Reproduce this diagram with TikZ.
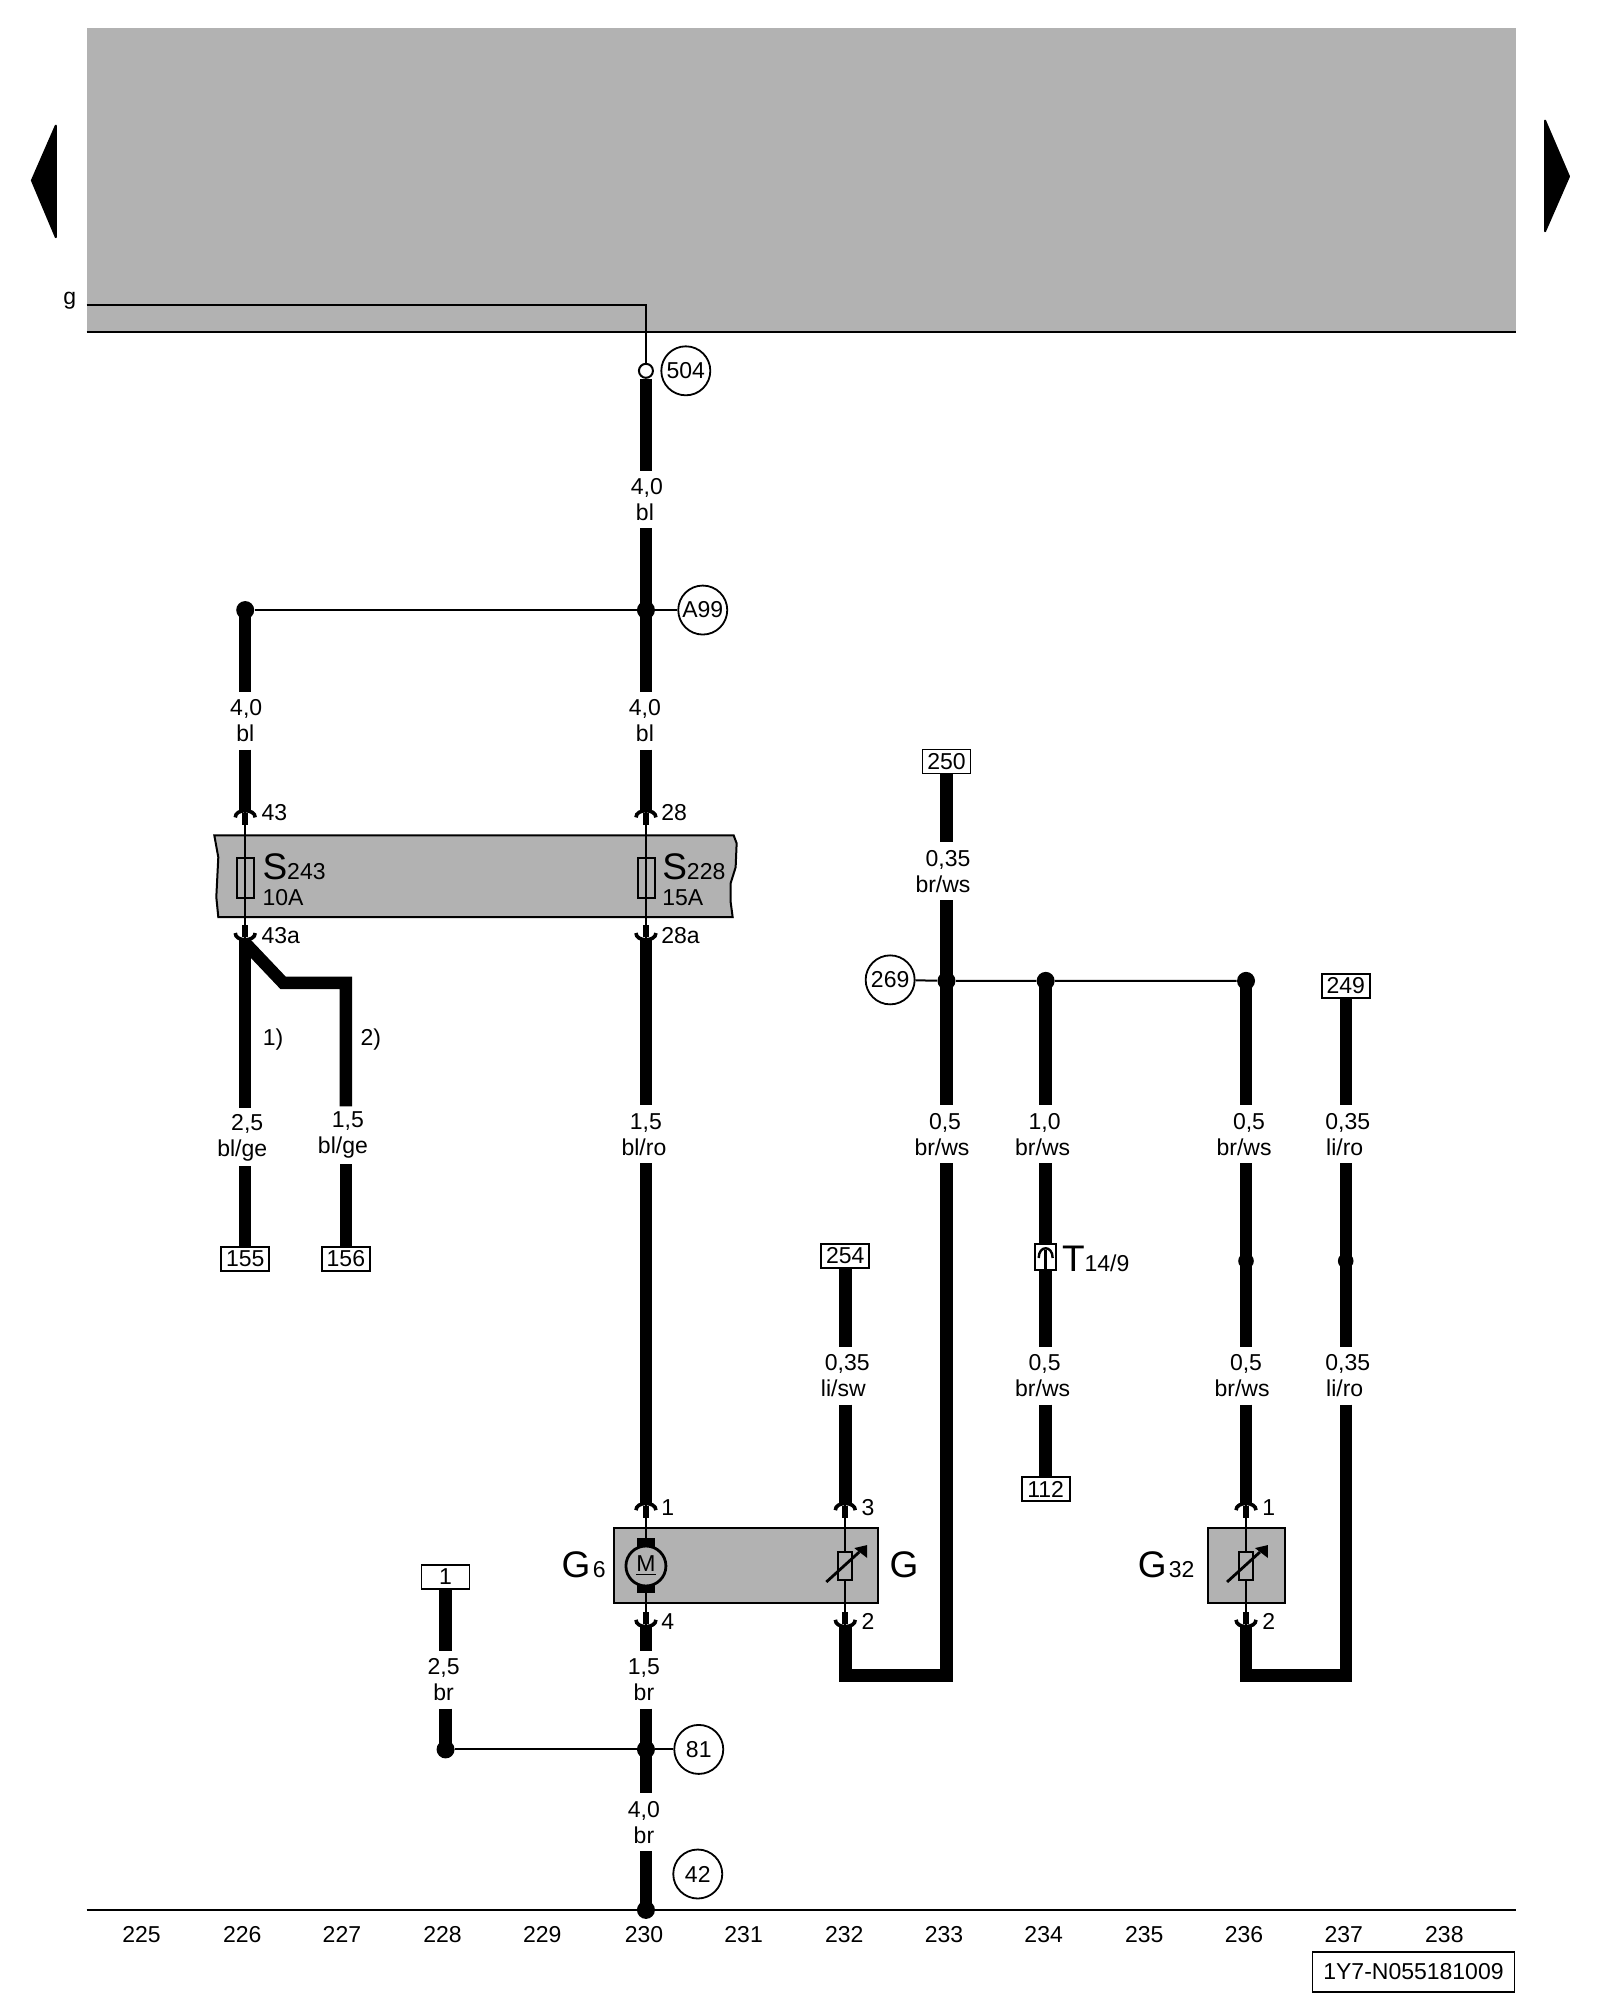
\documentclass[tikz,border=0pt]{standalone}
\usepackage{fontspec}
\setmainfont{Liberation Sans}
\newcommand{\bigf}{\fontsize{18.5}{20}\selectfont}
\newcommand{\sh}[1]{\hspace*{#1pt}}
\tikzset{
  wire/.style={line width=6.2pt,line cap=butt,line join=miter},
  thinw/.style={line width=1pt},
  grayf/.style={fill=gb,draw=black,line width=1pt},
  lab/.style={font=\fontsize{11.5}{13}\selectfont,align=center,inner sep=0pt,minimum height=28.5pt},
  txt/.style={font=\fontsize{11.5}{13}\selectfont,inner sep=0pt},
  big/.style={inner sep=0pt,font=\bigf,anchor=base west},
  term/.style={draw,fill=white,line width=0.9pt,minimum width=24pt,minimum height=12pt,inner sep=0pt,font=\fontsize{11.5}{13}\selectfont},
  ring/.style={circle,draw,line width=0.9pt,fill=white,minimum size=24.5pt,inner sep=0pt,font=\fontsize{11.5}{13}\selectfont},
  dot/.style={circle,fill=black,minimum size=9pt,inner sep=0pt},
  smalldot/.style={circle,fill=black,minimum size=7.8pt,inner sep=0pt},
  opendot/.style={circle,draw,line width=1pt,fill=white,minimum size=7pt,inner sep=0pt},
  pinup/.pic={
    \draw[line width=1.8pt] (-10,7) .. controls (-10,-2) and (10,-2) .. (10,7);
    \draw[line width=3pt] (0,3) -- (0,15);
  },
  pindown/.pic={
    \draw[line width=1.8pt] (-10,-7) .. controls (-10,2) and (10,2) .. (10,-7);
    \draw[line width=3pt] (0,-3) -- (0,-15);
  },
  varres/.pic={
    \draw[fill=gb,line width=0.9pt] (-7,-14) rectangle (7,14);
    \draw[line width=1.4pt] (-19,16) -- (14,-14);
    \fill (22,-21) -- (9,-18) -- (22,-8) -- cycle;
  }
}
\definecolor{gb}{gray}{0.70}
\begin{document}
\begin{tikzpicture}[x=0.4984pt,y=-0.4984pt]
\useasboundingbox[fill=white] (0,0) rectangle (1605.1,2006.4);
% top gray band
\fill[gb] (87,28) rectangle (1521,333);
\draw[line width=1pt] (87,333) -- (1521,333);
\draw[line width=1pt] (87,1916) -- (1521,1916);
% side triangles
\fill[line join=round,draw,line width=1pt] (32,181) -- (56,126) -- (56,238) -- cycle;
\fill[line join=round,draw,line width=1pt] (1574,177) -- (1550,121) -- (1550,232) -- cycle;
% g line
\node[txt,anchor=base] (gt) at (70,305) {g};
\coordinate (gs) at (87,306);
\coordinate (gc) at (648,306);
\node[opendot] (j504) at (648,372) {};
\draw[thinw] (gs) -- (gc) -- (j504);
\node[ring] (c504) at (688,372) {504};
% fuse bar
\draw[grayf] (215,838) -- (736,838) -- (739,846) -- (738,870) -- (733,886) -- (733,905) -- (735,920)
 -- (219,920) -- (217,900) -- (219,860) -- cycle;
% main labels
\node[lab] (l1) at (647,501) {\sh{2}4,0\\bl};
\node[lab] (l2) at (647,723) {4,0\\bl};
\node[lab] (l3) at (246,723) {\sh{1}4,0\\bl};
\node[dot] (jA) at (648,612) {};
\node[dot] (jAl) at (246,612) {};
\node[ring] (cA) at (705,612) {A99};
\draw[thinw] (jAl) -- (jA) -- (cA);
\coordinate (p43) at (246,813);
\coordinate (p28) at (648,813);
\coordinate (q43) at (246,943);
\coordinate (q28) at (648,943);
\draw[wire] (j504) -- (j504 |- l1.north);
\draw[wire] (j504 |- l1.south) -- (jA.center);
\draw[wire] (jA.center) -- (jA |- l2.north);
\draw[wire] (jA |- l2.south) -- (p28);
\draw[wire] (jAl.center) -- (jAl |- l3.north);
\draw[wire] (jAl |- l3.south) -- (p43);
\pic at (p43) {pinup};
\pic at (p28) {pinup};
\pic at (q43) {pindown};
\pic at (q28) {pindown};
\draw[thinw] (p43) -- (q43);
\draw[thinw] (p28) -- (q28);
\draw[line width=0.9pt] (238,861) rectangle (255,901);
\draw[line width=0.9pt] (640,861) rectangle (657,901);
\node[txt,anchor=base west] (t43) at (262,823) {43};
\node[txt,anchor=base west] (t28) at (663,823) {28};
\node[txt,anchor=base west] (t43a) at (262,947) {43a};
\node[txt,anchor=base west] (t28a) at (663,947) {28a};
\node[big] (s243) at (263,882) {S\fontsize{11.5}{13}\selectfont 243};
\node[big] (s228) at (664,882) {S\fontsize{11.5}{13}\selectfont 228};
\node[txt,anchor=base west] (a10) at (263,908) {10A};
\node[txt,anchor=base west] (a15) at (664,908) {15A};
% below fuses
\node[term] (b155) at (246,1263) {155};
\node[term] (b156) at (347,1263) {156};
\node[lab] (l4) at (243,1141) {\sh{5}2,5\\bl/ge};
\node[lab] (l5) at (344,1139) {\sh{5}1,5\\bl/ge};
\node[lab] (l6) at (646,1138) {\sh{2}1,5\\bl/ro};
\coordinate (k1) at (284,986);
\coordinate (k2) at (347,986);
\coordinate (q43b) at (246,946);
\draw[wire] (q43) -- (q43 |- l4.north);
\draw[wire] (q43 |- l4.south) -- (b155);
\draw[wire] (q43b) -- (k1) -- (k2) -- (k2 |- l5.north);
\draw[wire] (k2 |- l5.south) -- (b156);
\node[txt] (n1) at (274,1043) {1)};
\node[txt] (n2) at (372,1043) {2)};
% G6 assembly
\draw[grayf] (616,1533) rectangle (881,1608);
\coordinate (p1) at (648,1508);
\coordinate (q4) at (648,1632);
\coordinate (p3) at (848,1508);
\coordinate (q2) at (848,1632);
\draw[wire] (q28) -- (q28 |- l6.north);
\draw[wire] (q28 |- l6.south) -- (p1);
\pic at (p1) {pinup};
\pic at (q4) {pindown};
\pic at (p3) {pinup};
\pic at (q2) {pindown};
\draw[thinw] (p1) -- (q4);
\draw[thinw] (p3) -- (q2);
\fill (639,1543) rectangle (657,1553);
\fill (639,1588) rectangle (657,1598);
\node[circle,draw,line width=1.4pt,fill=gb,minimum size=20pt,inner sep=0pt,font=\fontsize{11.5}{13}\selectfont] (mot) at (648,1571) {\underline{M}};
\pic at (848,1571) {varres};
\node[big] (g6) at (563,1583) {G\fontsize{11.5}{13}\selectfont\hspace{1.2pt}6};
\node[big] (gg) at (892,1583) {G};
\node[txt,anchor=base west] (t1) at (663,1520) {1};
\node[txt,anchor=base west] (t3) at (864,1520) {3};
\node[txt,anchor=base west] (t4) at (663,1635) {4};
\node[txt,anchor=base west] (t2) at (864,1635) {2};
% wire 250
\node[term] (b250) at (949.5,764) {250};
\node[lab] (l7) at (946,874) {\sh{5}0,35\\br/ws};
\node[lab] (l8) at (945,1138) {\sh{3}0,5\\br/ws};
\node[ring] (c269) at (893,983) {269};
\node[dot] (j269) at (949.5,984) {};
\node[dot] (j2) at (1049,984) {};
\node[dot] (j3) at (1250,984) {};
\draw[wire] (b250) -- (b250 |- l7.north);
\draw[wire] (b250 |- l7.south) -- (j269.center);
\draw[wire] (j269.center) -- (j269 |- l8.north);
\draw[wire] (j269 |- l8.south) -- (949.5,1681) -- (848,1681) -- (q2);
\draw[thinw] (c269) -- (j269) -- (j2) -- (j3);
% T14/9
\node[lab] (l9) at (1046,1138) {\sh{2}1,0\\br/ws};
\node[lab] (l10) at (1046,1380) {\sh{2}0,5\\br/ws};
\node[term,minimum width=10.5pt,minimum height=13pt] (tcon) at (1049,1261) {};
\node[term] (b112) at (1049,1494) {112};
\draw[wire] (j2.center) -- (j2 |- l9.north);
\draw[wire] (j2 |- l9.south) -- (tcon);
\draw[wire] (tcon) -- (tcon |- l10.north);
\draw[wire] (tcon |- l10.south) -- (b112);
\draw[line width=1.2pt] (1042,1262) .. controls (1042,1249) and (1056,1249) .. (1056,1262);
\draw[line width=1.2pt] (1049,1254) -- (1049,1274);
\node[big] (t149) at (1065,1276) {T\fontsize{11.5}{13}\selectfont 14/9};
% wire 254
\node[term] (b254) at (848,1260) {254};
\node[lab] (l11) at (846,1380) {\sh{4}0,35\\li/sw};
\draw[wire] (b254) -- (b254 |- l11.north);
\draw[wire] (b254 |- l11.south) -- (p3);
% G32
\draw[grayf] (1212,1533) rectangle (1289,1608);
\node[smalldot] (j4) at (1250,1265) {};
\node[smalldot] (j5) at (1350,1265) {};
\node[lab] (l12) at (1248,1138) {\sh{5}0,5\\br/ws};
\node[lab] (l13) at (1246,1380) {\sh{4}0,5\\br/ws};
\node[term] (b249) at (1350,989) {249};
\node[lab] (l14) at (1349,1138) {\sh{3}0,35\\li/ro};
\node[lab] (l15) at (1349,1380) {\sh{3}0,35\\li/ro};
\coordinate (p5) at (1250,1508);
\coordinate (q5) at (1250,1632);
\draw[wire] (j3.center) -- (j3 |- l12.north);
\draw[wire] (j3 |- l12.south) -- (j4.center);
\draw[wire] (j4.center) -- (j4 |- l13.north);
\draw[wire] (j4 |- l13.south) -- (p5);
\draw[wire] (b249) -- (b249 |- l14.north);
\draw[wire] (b249 |- l14.south) -- (j5.center);
\draw[wire] (j5.center) -- (j5 |- l15.north);
\draw[wire] (j5 |- l15.south) -- (1350,1681) -- (1250,1681) -- (q5);
\pic at (p5) {pinup};
\pic at (q5) {pindown};
\draw[thinw] (p5) -- (q5);
\pic at (1250,1571) {varres};
\node[big] (g32) at (1141,1583) {G\fontsize{11.5}{13}\selectfont\hspace{1.2pt}32};
\node[txt,anchor=base west] (t5) at (1266,1520) {1};
\node[txt,anchor=base west] (t6) at (1266,1635) {2};
% ground branch
\node[term,fill=white,minimum width=24pt] (b1) at (447,1582) {1};
\node[lab] (l16) at (445,1685) {2,5\\br};
\node[dot] (j6) at (447,1755) {};
\node[dot] (j7) at (648,1755) {};
\node[ring] (c81) at (701,1755) {81};
\node[lab] (l17) at (646,1685) {1,5\\br};
\node[lab] (l18) at (646,1828) {4,0\\br};
\node[ring] (c42) at (700,1880) {42};
\node[dot] (j8) at (648,1916) {};
\draw[wire] (b1) -- (b1 |- l16.north);
\draw[wire] (b1 |- l16.south) -- (j6.center);
\draw[thinw] (j6) -- (j7) -- (c81);
\draw[wire] (q4) -- (q4 |- l17.north);
\draw[wire] (q4 |- l17.south) -- (j7.center);
\draw[wire] (j7.center) -- (j7 |- l18.north);
\draw[wire] (j7 |- l18.south) -- (j8.center);
% scale
\foreach \x/\t in {142/225,243/226,343/227,444/228,544/229,646/230,746/231,847/232,947/233,1047/234,1148/235,1248/236,1348/237,1449/238}
  \node[txt,anchor=base] (s\t) at (\x,1949) {\t};
\node[draw,line width=0.9pt,minimum width=101pt,minimum height=20pt,inner sep=0pt,font=\fontsize{11.5}{13}\selectfont] (code) at (1418,1978) {1Y7-N055181009};
\end{tikzpicture}
\end{document}
